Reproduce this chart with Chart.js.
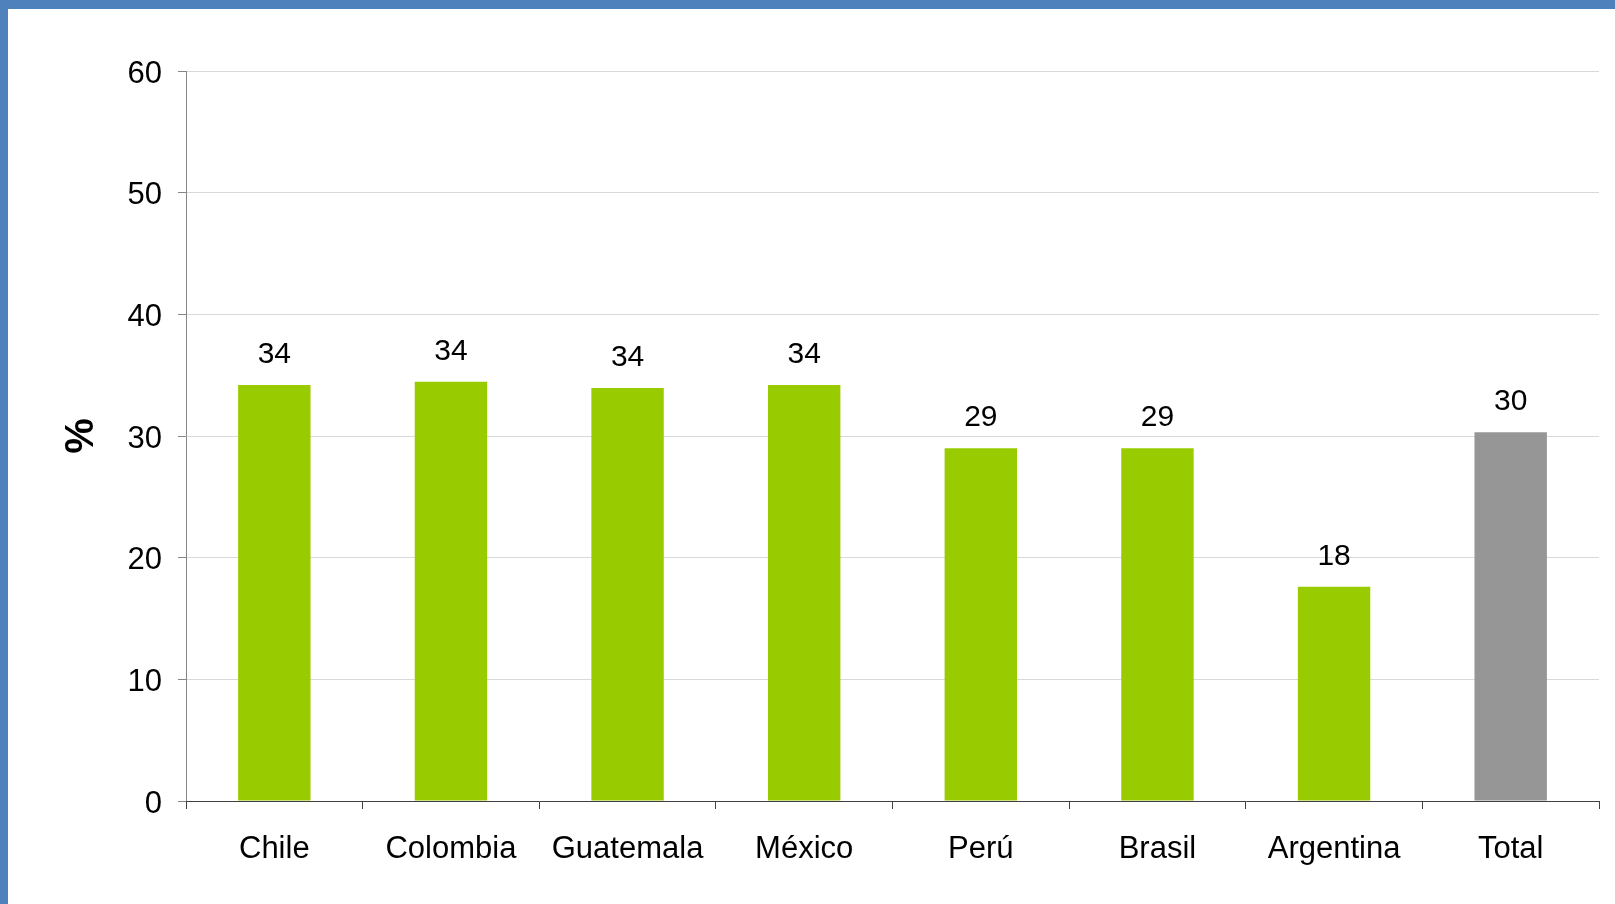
<!DOCTYPE html>
<html>
<head>
<meta charset="utf-8">
<script src="https://cdn.jsdelivr.net/npm/chart.js@4/dist/chart.umd.min.js"></script>
<style>
  html, body { margin: 0; padding: 0; background: #4f81bd; }
  #frame { position: absolute; left: 8px; top: 9px; width: 1607px; height: 895px; background: #fff; }
</style>
</head>
<body>
<div id="frame"><canvas id="chart"></canvas></div>
<script>
const countries = ['Chile', 'Colombia', 'Guatemala', 'México', 'Perú', 'Brasil', 'Argentina', 'Total'];
const shares = [34.2, 34.45, 33.95, 34.2, 29.0, 29.0, 17.6, 30.3];
const barColors = ['#99cc00', '#99cc00', '#99cc00', '#99cc00', '#99cc00', '#99cc00', '#99cc00', '#969696'];
const yTicks = [0, 10, 20, 30, 40, 50, 60];

const FONT = 'Liberation Sans, Arial, sans-serif';

const valueLabels = {
  id: 'valueLabels',
  afterDatasetsDraw(chart) {
    const ctx = chart.ctx;
    const meta = chart.getDatasetMeta(0);
    ctx.save();
    ctx.font = `30px ${FONT}`;
    ctx.fillStyle = '#000';
    ctx.textAlign = 'center';
    ctx.textBaseline = 'alphabetic';
    meta.data.forEach((bar, i) => {
      ctx.fillText(String(Math.round(shares[i])), bar.x, bar.y - 22);
    });
    ctx.restore();
  }
};

new Chart(document.getElementById('chart'), {
  type: 'bar',
  data: {
    labels: countries,
    datasets: [{ data: shares, backgroundColor: barColors, barPercentage: 0.41, categoryPercentage: 1 }]
  },
  options: {
    responsive: true,
    maintainAspectRatio: false,
    animation: false,
    layout: { padding: { top: 62, right: 16, left: 0, bottom: 0 } },
    plugins: { legend: { display: false }, tooltip: { enabled: false } },
    scales: {
      y: {
        min: 0,
        max: 60,
        afterBuildTicks: (scale) => { scale.ticks = yTicks.map((v) => ({ value: v })); },
        afterFit: (scale) => { scale.width = 178; },
        ticks: { font: { family: FONT, size: 31 }, color: '#000', padding: 16, labelOffset: 3 },
        grid: { color: '#d9d9d9', tickColor: '#868686', tickLength: 8, lineWidth: 1 },
        border: { color: '#868686' },
        title: { display: true, text: '%', font: { family: FONT, size: 40, weight: 'bold' }, color: '#000', padding: { top: 50, bottom: 0 } }
      },
      x: {
        afterFit: (scale) => { scale.height = 103; },
        ticks: { font: { family: FONT, size: 31 }, color: '#000', padding: 22, maxRotation: 0, autoSkip: false },
        grid: { offset: true, drawOnChartArea: false, tickColor: '#404040', tickLength: 8 },
        border: { color: '#404040' }
      }
    }
  },
  plugins: [valueLabels]
});
</script>
</body>
</html>
